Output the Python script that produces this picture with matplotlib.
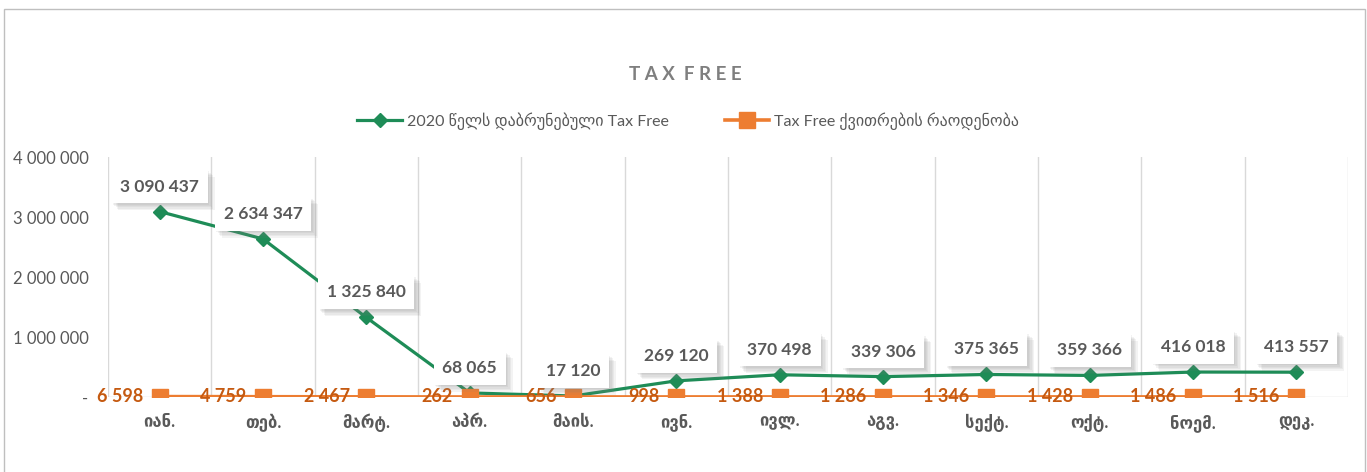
import numpy as np
import matplotlib.pyplot as plt
import matplotlib.patheffects as pe
from matplotlib.patches import Rectangle

plt.rcParams['font.family'] = ['Lato', 'DejaVu Sans']

# Data
months = ["იან.", "თებ.", "მარტ.", "აპრ.", "მაის.", "ივნ.",
          "ივლ.", "აგვ.", "სექტ.", "ოქტ.", "ნოემ.", "დეკ."]
refunded = [3090437, 2634347, 1325840, 68065, 17120, 269120,
            370498, 339306, 375365, 359366, 416018, 413557]
checks = [6598, 4759, 2467, 262, 656, 998,
          1388, 1286, 1346, 1428, 1486, 1516]
y_ticks = [0, 1000000, 2000000, 3000000, 4000000]

green = "#1E8C57"
orange = "#ED7D31"
dark_orange = "#C55A11"
grey = "#595959"

def fmt(v):
    return f"{v:,}".replace(",", " ")

fig = plt.figure(figsize=(13.67, 4.72), dpi=100)
fig.patches.append(Rectangle((4/1367, -0.01), 1361/1367, 1 - 9/472 + 0.01,
                             transform=fig.transFigure, fill=False,
                             edgecolor="#bfbfbf", lw=1))
ax = fig.add_axes([108/1367, 1 - 397/472, (1348 - 108)/1367, 240/472])

x = np.arange(len(months))
ax.plot(x, refunded, color=green, lw=2.3, marker="D", ms=7.5, zorder=3,
        label="2020 წელს დაბრუნებული Tax Free")
ax.plot(x, checks, color=orange, lw=2.6, marker="s", ms=11, zorder=4,
        label="Tax Free ქვითრების რაოდენობა")

ax.set_xlim(-0.5, len(months) - 0.5)
ax.set_ylim(0, 4000000)
ax.set_yticks(y_ticks)
ax.set_yticklabels(["-" if v == 0 else fmt(v) for v in y_ticks])
ax.set_xticks(x)
ax.set_xticklabels(months, fontweight="bold", fontsize=12.5)
ax.tick_params(axis="both", length=0, labelsize=12, colors=grey)
ax.tick_params(axis="y", pad=14)
ax.tick_params(axis="x", pad=12)

# vertical gridlines between categories
for b in np.arange(-0.5, len(months) + 0.5, 1):
    ax.axvline(b, color="#d9d9d9", lw=1, zorder=0)
for s in ax.spines.values():
    s.set_visible(False)
ax.axhline(0, color="#d9d9d9", lw=1, zorder=0)

# soft shadow made of a few stacked offsets
shadow = [pe.SimplePatchShadow(offset=(d, -d), shadow_rgbFace="#808080", alpha=0.09)
          for d in (1, 2, 3, 4, 5)] + [pe.Normal()]

for xi, v in zip(x, refunded):
    t = ax.annotate(fmt(v), (xi, v), xytext=(0, 18), textcoords="offset points",
                    ha="center", va="center", fontsize=12.5, fontweight="bold",
                    color=grey, zorder=6,
                    bbox=dict(boxstyle="square,pad=0.5", fc="white", ec="none"))
    t.get_bbox_patch().set_path_effects(shadow)

for xi, v in zip(x, checks):
    ax.annotate(fmt(v), (xi, v), xytext=(-12, 0), textcoords="offset points",
                ha="right", va="center", fontsize=13, fontweight="bold",
                color=dark_orange, zorder=5)

fig.text(0.501, 1 - 74/472, "T A X  F R E E", ha="center", va="center",
         fontsize=13.5, fontweight="bold", color="#7f7f7f")
ax.legend(loc="center", bbox_to_anchor=(0.468, 1 + 36/240), ncol=2,
          frameon=False, fontsize=11.5, labelcolor=grey, columnspacing=3.5,
          handlelength=2.8, handletextpad=0.3, bbox_transform=ax.transAxes)

fig.savefig("out.png", dpi=100)
